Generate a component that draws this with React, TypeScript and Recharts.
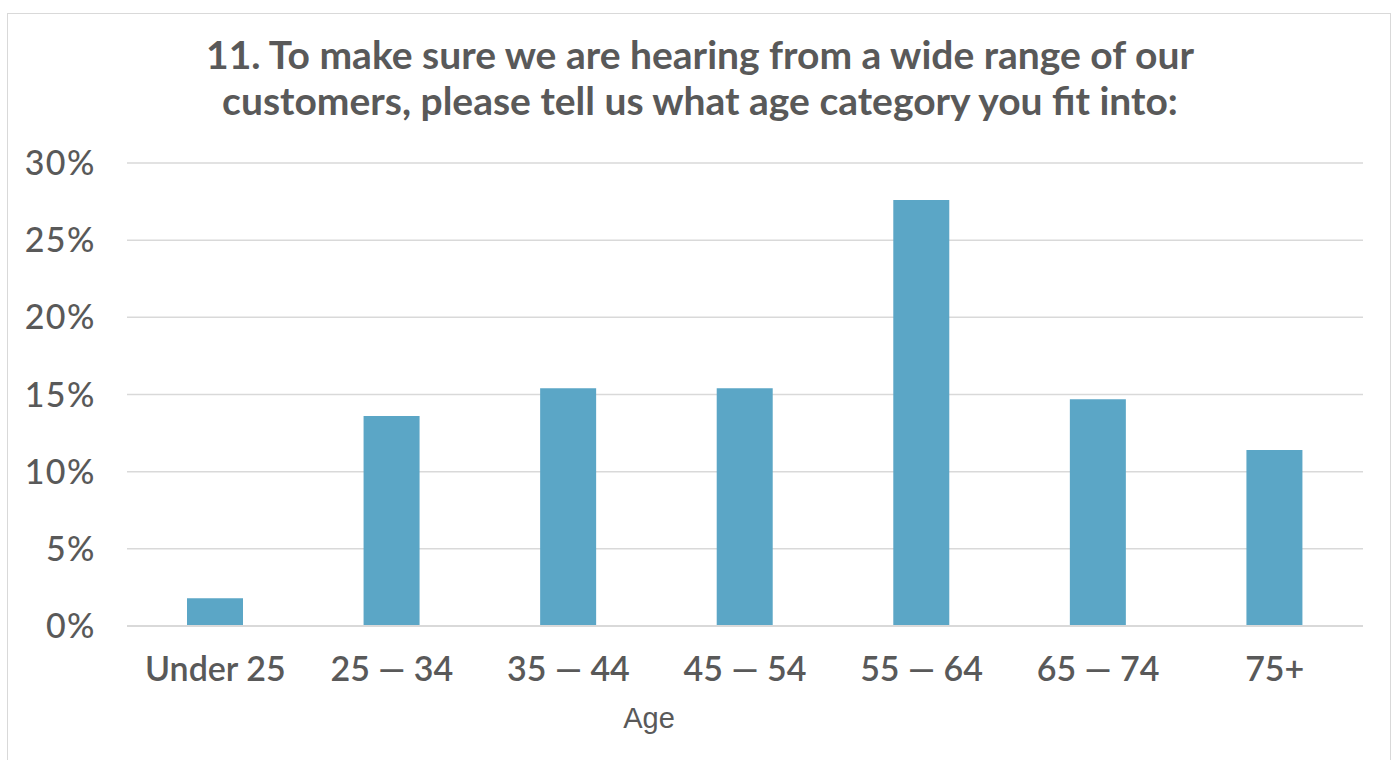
import React from 'react'
import { BarChart, Bar, XAxis, YAxis, CartesianGrid } from 'recharts'

const ageGroups = ['Under 25', '25 — 34', '35 — 44', '45 — 54', '55 — 64', '65 — 74', '75+']
const shares = [1.8, 13.6, 15.4, 15.4, 27.6, 14.7, 11.4]
const yTicks = [0, 5, 10, 15, 20, 25, 30]

const titleLines = [
  '11. To make sure we are hearing from a wide range of our',
  'customers, please tell us what age category you fit into:',
]

const data = ageGroups.map((age, i) => ({ age, share: shares[i] }))

const GRAY = '#595959'
const FONT = 'Lato, "Open Sans", sans-serif'

export default function App() {
  return (
    <div style={{ position: 'absolute', left: 0, top: 0, width: 1397, height: 760, background: '#fff', overflow: 'hidden' }}>
      {/* outer frame, runs off the bottom */}
      <div
        style={{
          position: 'absolute', left: 7, top: 13, width: 1384, height: 800,
          border: '1.5px solid #d9d9d9', boxSizing: 'border-box',
        }}
      />
      <div
        style={{
          position: 'absolute', left: 0, top: 31, width: 1400, textAlign: 'center',
          fontFamily: FONT, fontWeight: 700, fontSize: 39, lineHeight: '46px', color: GRAY,
        }}
      >
        {titleLines.map(l => <div key={l}>{l}</div>)}
      </div>
      <div style={{ position: 'absolute', left: 0, top: 0 }}>
        <BarChart width={1397} height={760} data={data} margin={{ top: 163, right: 34, bottom: 0, left: 0 }}>
          <CartesianGrid vertical={false} stroke="#d9d9d9" strokeWidth={1.5} />
          <XAxis
            dataKey="age"
            height={134}
            tickLine={false}
            axisLine={{ stroke: '#d9d9d9', strokeWidth: 2 }}
            tickMargin={25}
            tick={{ fill: GRAY, fontSize: 34, fontFamily: FONT, fontWeight: 600 }}
            label={{
              value: 'Age', position: 'insideBottom', offset: 32, dx: -96,
              fill: GRAY, fontSize: 29, fontFamily: '"Liberation Sans", sans-serif', fontWeight: 300,
            }}
          />
          <YAxis
            width={127}
            domain={[0, 30]}
            ticks={yTicks}
            tickLine={false}
            axisLine={false}
            tickMargin={25}
            tickFormatter={(v) => `${v}%`}
            tick={{ fill: GRAY, fontSize: 34, fontFamily: FONT, fontWeight: 500, letterSpacing: 1.5 }}
          />
          <Bar dataKey="share" fill="#5ba6c6" barSize={56} isAnimationActive={false} />
        </BarChart>
      </div>
    </div>
  )
}
